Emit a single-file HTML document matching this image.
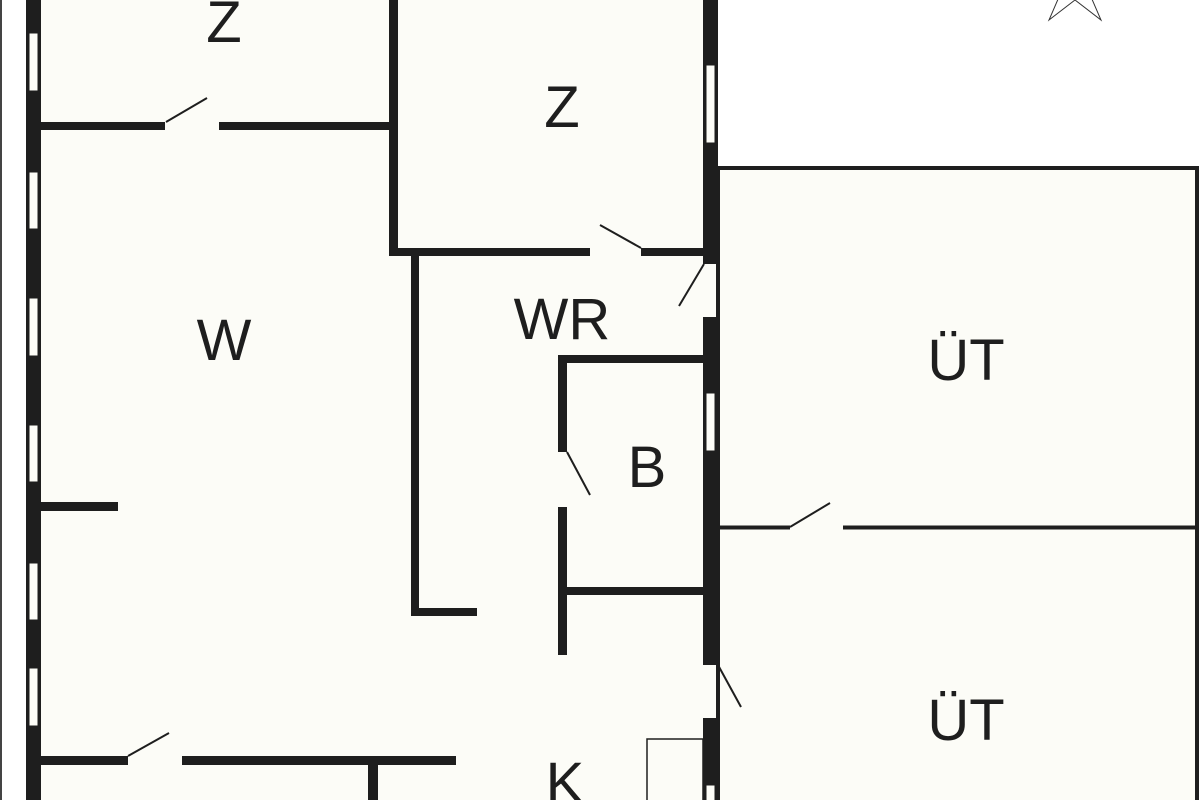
<!DOCTYPE html>
<html><head><meta charset="utf-8"><style>
html,body{margin:0;padding:0;background:#fff;}
svg{display:block;}
text{font-family:"Liberation Sans",sans-serif;font-size:58px;fill:#1e1e1e;text-anchor:middle;}
</style></head><body>
<svg width="1200" height="800" viewBox="0 0 1200 800" xmlns="http://www.w3.org/2000/svg">
<rect x="0" y="0" width="1200" height="800" fill="#ffffff"/>
<!-- interior fill -->
<rect x="26" y="0" width="692" height="800" fill="#fcfcf7"/>
<rect x="718" y="166" width="481" height="634" fill="#fcfcf7"/>
<!-- left thin line -->
<rect x="0" y="0" width="2" height="800" fill="#444"/>
<g fill="#1e1e1e">
<!-- left outer wall -->
<rect x="26" y="0" width="15" height="800"/>
<!-- right thick wall -->
<rect x="703" y="0" width="15" height="264"/>
<rect x="703" y="317" width="15" height="348"/>
<rect x="703" y="718" width="15" height="82"/>
<!-- top horizontal wall -->
<rect x="41" y="122" width="124" height="8"/>
<rect x="219" y="122" width="171" height="8"/>
<!-- vertical wall Z -->
<rect x="389" y="0" width="9" height="256"/>
<rect x="389" y="248" width="201" height="8"/>
<rect x="641" y="248" width="64" height="8"/>
<!-- WR L wall -->
<rect x="411" y="256" width="8" height="360"/>
<rect x="411" y="608" width="66" height="8"/>
<!-- B room -->
<rect x="558" y="355" width="147" height="8"/>
<rect x="558" y="355" width="9" height="97"/>
<rect x="558" y="507" width="9" height="148"/>
<rect x="567" y="587" width="138" height="8"/>
<!-- W stub -->
<rect x="41" y="502" width="77" height="9"/>
<!-- bottom wall -->
<rect x="41" y="756" width="87" height="9"/>
<rect x="182" y="756" width="274" height="9"/>
<rect x="368" y="765" width="10" height="35"/>
</g>
<!-- windows -->
<g fill="#fcfcf7" stroke="#1e1e1e" stroke-width="1">
<rect x="29" y="33" width="9" height="58"/>
<rect x="29" y="172" width="9" height="57"/>
<rect x="29" y="298" width="9" height="58"/>
<rect x="29" y="425" width="9" height="57"/>
<rect x="29" y="563" width="9" height="57"/>
<rect x="29" y="668" width="9" height="58"/>
<rect x="706" y="65" width="9" height="78"/>
<rect x="706" y="393" width="9" height="58"/>
<rect x="706" y="785" width="9" height="20"/>
</g>
<!-- ÜT outlines -->
<g fill="none" stroke="#1e1e1e">
<rect x="718" y="168" width="479" height="640" stroke-width="4"/>
<line x1="718" y1="527.5" x2="790" y2="527.5" stroke-width="4"/>
<line x1="843" y1="527.5" x2="1198" y2="527.5" stroke-width="4"/>
<rect x="647" y="739" width="56" height="70" stroke-width="1.5"/>
</g>
<!-- door swings -->
<g stroke="#1e1e1e" stroke-width="2" fill="none">
<line x1="166" y1="122" x2="207" y2="98"/>
<line x1="641" y1="248" x2="600" y2="225"/>
<line x1="704" y1="264" x2="679" y2="306"/>
<line x1="567" y1="452" x2="590" y2="495"/>
<line x1="790" y1="527" x2="830" y2="503"/>
<line x1="718" y1="665" x2="741" y2="707"/>
<line x1="128" y1="756" x2="169" y2="733"/>
</g>
<!-- north star -->
<polygon points="1049,20 1075,0 1101,20 1088,-10 1062,-10" fill="none" stroke="#333" stroke-width="1"/>
<text x="224" y="42">Z</text>
<text x="562" y="127">Z</text>
<text x="224" y="360">W</text>
<text x="562" y="339">WR</text>
<text x="647" y="487">B</text>
<text x="966" y="380">ÜT</text>
<text x="966" y="740">ÜT</text>
<text x="565" y="803">K</text>
</svg>
</body></html>
